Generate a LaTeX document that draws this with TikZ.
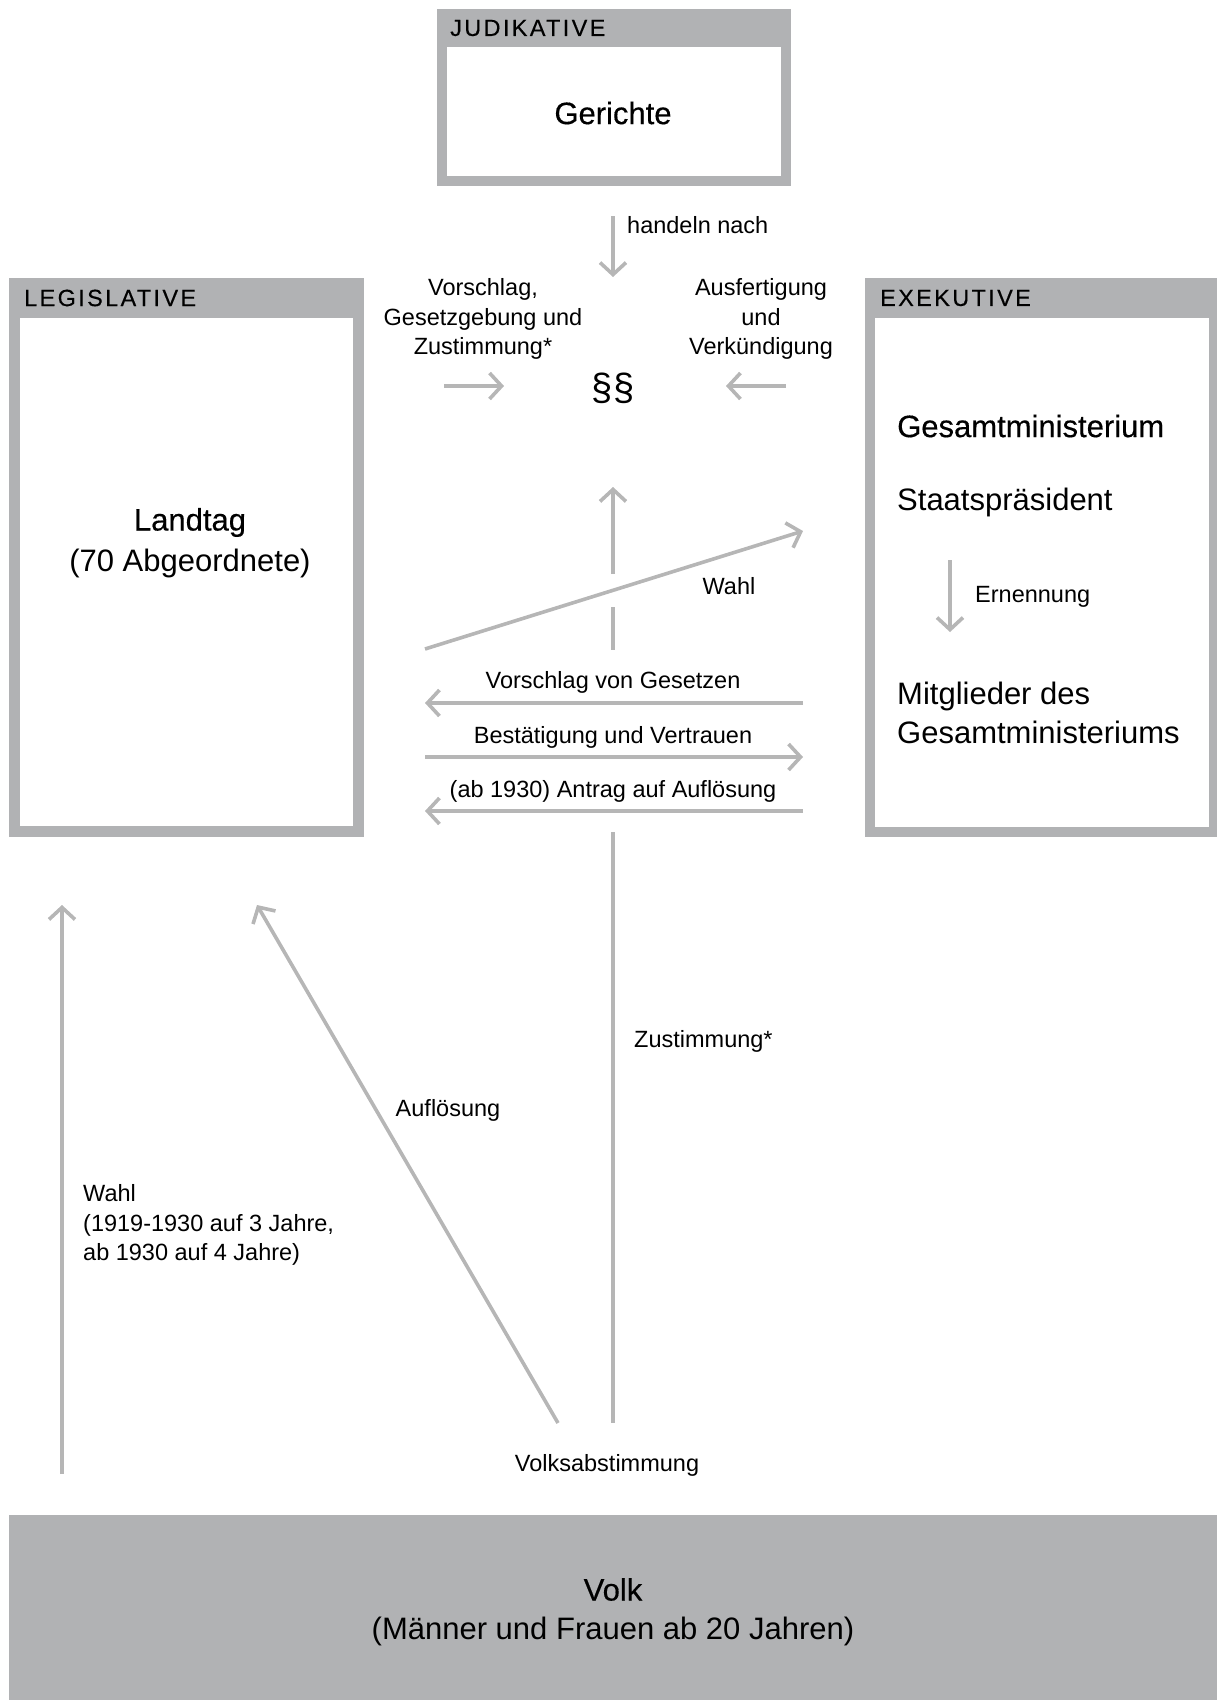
\documentclass[tikz,border=0pt]{standalone}
\usepackage{fontspec}
\setmainfont{Liberation Sans}
\newfontfamily\capsfont[LetterSpace=10,FakeBold=0.3]{Liberation Sans}
\newfontfamily\medfont[FakeBold=0.4]{Liberation Sans}
\usetikzlibrary{%
  arrows.meta,%
  positioning% wg. " of "
}
\definecolor{boxgray}{RGB}{177,178,180}
\definecolor{linegray}{RGB}{182,182,182}
\newcommand\smtxt{\fontsize{23.5pt}{29.5pt}\selectfont}
\newcommand\bigtxt{\fontsize{31pt}{39pt}\selectfont}
\newcommand\hdtxt{\capsfont\fontsize{23.5pt}{27pt}\selectfont}

\begin{document}
\begin{tikzpicture}[
  x=1pt, y=-1pt,
  >={Straight Barb[length=12pt,width=26pt]},
  conn/.style={draw=linegray, line width=3.6pt},
  frame/.style={rectangle, anchor=north west, inner sep=0pt, fill=boxgray},
  pane/.style={rectangle, anchor=north west, inner sep=0pt, fill=white},
  head/.style={anchor=west, inner sep=0pt, font=\hdtxt},
  title/.style={inner sep=0pt, font=\bigtxt, align=center},
  entry/.style={anchor=west, inner sep=0pt, font=\bigtxt, align=left},
  lbl/.style={inner sep=0pt, font=\smtxt, align=center}
]
\useasboundingbox (0,0) rectangle (1217,1700);

% boxes
\node[frame, minimum width=354pt, minimum height=177pt] (jud) at (437,9) {};
\node[pane, minimum width=334pt, minimum height=129pt] (judin) at (447,47) {};
\node[frame, minimum width=355pt, minimum height=559pt] (leg) at (9,278) {};
\node[pane, minimum width=333pt, minimum height=508pt] (legin) at (20,318) {};
\node[frame, minimum width=352pt, minimum height=559pt] (exe) at (865,278) {};
\node[pane, minimum width=334pt, minimum height=509pt] (exein) at (875,318) {};
\node[frame, minimum width=1208pt, minimum height=185pt] (volk) at (9,1515) {};

\node[head] (judh) at (450,28) {JUDIKATIVE};
\node[head] (legh) at (24,298) {LEGISLATIVE};
\node[head] (exeh) at (880,298) {EXEKUTIVE};

\node[title] (ger) at (613,113) {{\medfont Gerichte}};
\node[title] (land) at (190,543) {{\medfont Landtag}\\[2pt](70 Abgeordnete)};
\node[title] (volkt) at (613,1612) {{\medfont Volk}\\(Männer und Frauen ab 20 Jahren)};

\node[entry] (gm) at (897,426) {{\medfont Gesamtministerium}};
\node[entry] (sp) at (897,502) {Staatspräsident};
\node[entry] (mg) at (897,713) {Mitglieder des\\Gesamtministeriums};
\node[title, font=\fontsize{38pt}{40pt}\selectfont] (par) at (613,388) {\S\S};

% end points
\coordinate (h1) at (613,216);
\coordinate (h2) at (613,277);
\coordinate (e1) at (950,560);
\coordinate (e2) at (950,632);
\coordinate (v1) at (444,386);
\coordinate (v2) at (504,386);
\coordinate (a1) at (786,386);
\coordinate (a2) at (726,386);
\coordinate (w1) at (425,649);
\coordinate (w2) at (803,531);
\coordinate (gL) at (425,703);
\coordinate (gR) at (803,703);
\coordinate (bL) at (425,757);
\coordinate (bR) at (803,757);
\coordinate (aL) at (425,811);
\coordinate (aR) at (803,811);
\coordinate (z0) at (613,487);
\coordinate (z1) at (613,574);
\coordinate (z2) at (613,607);
\coordinate (z3) at (613,650);
\coordinate (z4) at (613,832);
\coordinate (z5) at (613,1423);
\coordinate (l1) at (62,1474);
\coordinate (l2) at (62,905);
\coordinate (f1) at (558,1423);
\coordinate (f2) at (257,905);

% connectors
\draw[conn,->] (h1) -- (h2);
\draw[conn,->] (e1) -- (e2);
\draw[conn,->] (v1) -- (v2);
\draw[conn,->] (a1) -- (a2);
\draw[conn,->] (w1) -- (w2);
\draw[conn,->] (gR) -- (gL);
\draw[conn,->] (bL) -- (bR);
\draw[conn,->] (aR) -- (aL);
\draw[conn,->] (z1) -- (z0);
\draw[conn] (z2) -- (z3);
\draw[conn] (z4) -- (z5);
\draw[conn,->] (l1) -- (l2);
\draw[conn,->] (f1) -- (f2);

% labels
\node[lbl, anchor=west] (hn) at (627,225) {handeln nach};
\node[lbl, anchor=west] (ern) at (975,597) {Ernennung};
\node[lbl] (vor) at (483,319) {Vorschlag,\\Gesetzgebung und\\Zustimmung*};
\node[lbl] (aus) at (761,319) {Ausfertigung\\und\\Verkündigung};
\node[lbl] (wahl) at (729,586) {Wahl};
\node[lbl] (vg) at (613,682) {Vorschlag von Gesetzen};
\node[lbl] (bv) at (613,737) {Bestätigung und Vertrauen};
\node[lbl] (aa) at (613,791) {(ab 1930) Antrag auf Auflösung};
\node[lbl, anchor=west, align=left] (lw) at (83,1225) {Wahl\\(1919-1930 auf 3 Jahre,\\ab 1930 auf 4 Jahre)};
\node[lbl] (afl) at (448,1110) {Auflösung};
\node[lbl, anchor=west] (zu) at (634,1041) {Zustimmung*};
\node[lbl] (va) at (607,1465) {Volksabstimmung};

\end{tikzpicture}
\end{document}
